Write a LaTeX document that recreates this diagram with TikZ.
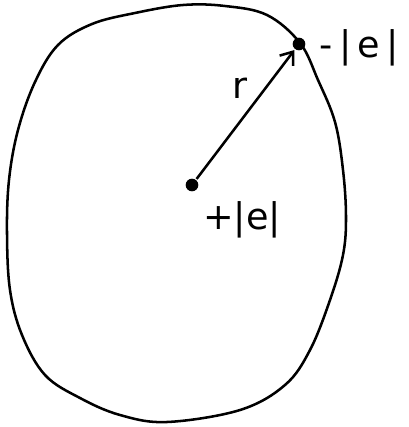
\documentclass[tikz,border=0pt]{standalone}
\usepackage{fontspec}
\setmainfont{DejaVu Sans}
\usetikzlibrary{arrows.meta}
\begin{document}
\begin{tikzpicture}[x=0.025cm, y=-0.025cm, line width=1.8pt, line join=round,
    every node/.style={font=\fontsize{26}{30}\selectfont},
    charge/.style={circle, fill=black, inner sep=0pt, minimum size=9pt}]
  \useasboundingbox (0,0) rectangle (408,427);
  % Closed surface
  \draw plot[smooth cycle, tension=0.6] coordinates {
    (183,5) (225,6) (267,15) (300,43) (318,80) (335,122) (343,170) (346,217)
    (343,255) (330,300) (310,350) (285,385) (240,410) (167,422) (120,415)
    (80,398) (45,375) (22,335) (10,290) (7,233) (9,180) (18,130) (35,82)
    (58,45) (92,24) (135,13)};
  % Charges
  \node[charge] (plus) at (192,185) {};
  \node[charge] (minus) at (299,44) {};
  \node[anchor=west] (lminus) at (314,48) {-\,|\,e\,|};
  \node (lplus) at (242,220) {+|e|};
  % Radius vector
  \draw[-{Straight Barb[length=8pt, width=12pt]}] (plus) -- (minus);
  \node (lr) at (240,88) {r};
\end{tikzpicture}
\end{document}
